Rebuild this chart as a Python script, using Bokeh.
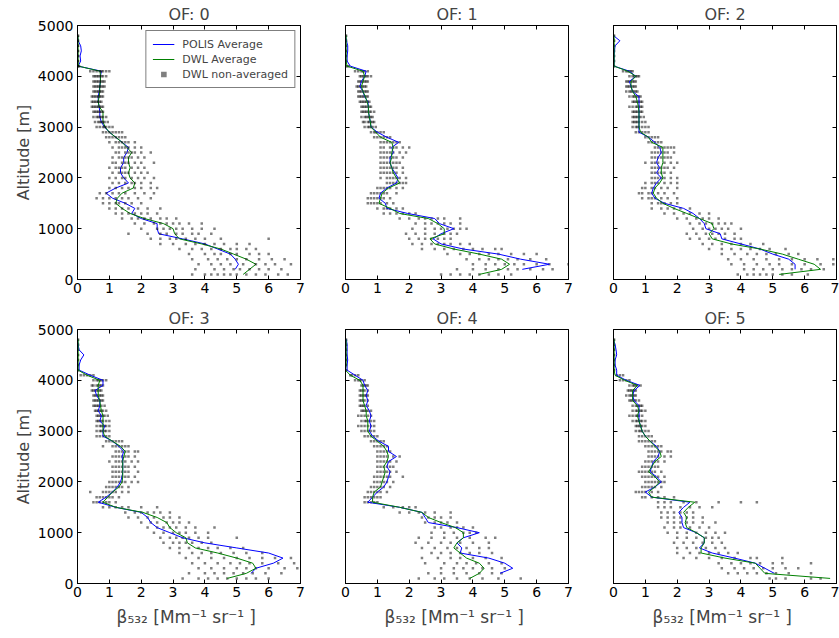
import numpy as np
from bokeh.plotting import figure
from bokeh.layouts import row, column
from bokeh.models import LinearAxis, FixedTicker
from bokeh.embed import file_html
from bokeh.resources import INLINE

ALT = list(range(100, 4900, 100))
X_TICKS = [0, 1, 2, 3, 4, 5, 6, 7]
Y_TICKS = [0, 1000, 2000, 3000, 4000, 5000]
TITLES = ["OF: 0", "OF: 1", "OF: 2", "OF: 3", "OF: 4", "OF: 5"]

# blue profiles (100 m ... 4800 m)
POLIS_0 = [None, 4.95, 5.05, 4.95, 4.8, 4.4, 4.0, 3.3,
           2.55, 2.5, 2.5, 2.0, 1.7, 1.8, 1.5, 1.1,
           0.9, 1.2, 1.6, 1.45, 1.35, 1.35, 1.45, 1.45,
           1.55, 1.6, 1.4, 1.2, 1.0, 0.85, 0.75, 0.7,
           0.7, 0.68, 0.65, 0.65, 0.68, 0.7, 0.72, 0.72,
           0.75, 0.02, 0.1, 0.08, 0.12, 0.1, 0.02, 0.0]
POLIS_1 = [None, 5.55, 6.4, 5.5, 4.8, 3.7, 3.0, 2.75,
           3.0, 3.4, 2.95, 2.8, 1.95, 1.3, 1.25, 1.05,
           1.1, 1.3, 1.6, 1.65, 1.55, 1.45, 1.4, 1.4,
           1.5, 1.45, 1.67, 1.3, 1.0, 0.8, 0.78, 0.75,
           0.72, 0.72, 0.7, 0.6, 0.55, 0.45, 0.5, 0.6,
           0.65, 0.15, 0.05, 0.05, 0.07, 0.07, 0.03, 0.0]
POLIS_2 = [None, 5.7, 5.7, 5.5, 5.0, 4.6, 4.0, 3.4,
           3.35, 2.9, 2.85, 2.7, 2.5, 2.2, 1.6, 1.3,
           1.2, 1.25, 1.35, 1.5, 1.35, 1.45, 1.35, 1.4,
           1.5, 1.45, 1.3, 1.1, 0.8, 0.8, 0.8, 0.8,
           0.8, 0.8, 0.8, 0.8, 0.6, 0.55, 0.5, 0.7,
           0.5, 0.02, 0.02, 0.02, 0.03, 0.05, 0.2, 0.0]
POLIS_3 = [None, 5.45, 5.6, 6.15, 6.45, 6.0, 5.0, 4.0,
           3.3, 2.9, 2.5, 2.3, 2.2, 2.0, 1.2, 0.65,
           0.9, 1.1, 1.25, 1.35, 1.4, 1.42, 1.42, 1.42,
           1.4, 1.45, 1.3, 1.1, 0.8, 0.8, 0.85, 0.7,
           0.75, 0.65, 0.7, 0.7, 0.6, 0.55, 0.8, 0.8,
           0.4, 0.05, 0.05, 0.1, 0.2, 0.05, 0.02, 0.0]
POLIS_4 = [None, 4.85, 5.25, 5.0, 4.5, 3.6, 3.65, 3.5,
           3.7, 4.2, 3.5, 2.6, 2.5, 2.4, 1.7, 0.7,
           0.85, 1.0, 1.2, 1.3, 1.35, 1.4, 1.3, 1.35,
           1.6, 1.35, 1.35, 1.05, 0.85, 0.75, 0.8, 0.75,
           0.8, 0.75, 0.65, 0.7, 0.65, 0.7, 0.6, 0.55,
           0.3, 0.05, 0.05, 0.07, 0.05, 0.05, 0.05, 0.03]
POLIS_5 = [None, 5.05, 4.75, 4.45, 3.8, 3.1, 2.7, 2.85,
           2.85, 2.6, 2.2, 2.15, 2.15, 2.05, 2.2, 2.4,
           1.2, 1.0, 1.3, 1.5, 1.35, 1.15, 1.2, 1.25,
           1.4, 1.45, 1.35, 1.15, 1.0, 0.9, 0.85, 0.8,
           0.8, 0.8, 0.8, 0.65, 0.6, 0.65, 0.83, 0.4,
           0.1, 0.1, 0.05, 0.05, 0.1, 0.08, 0.05, 0.0]

# green profiles (100 m ... 4800 m)
DWL_0 = [5.2, 5.4, 5.6, 5.3, 4.9, 4.5, 3.9, 3.2,
         3.05, 3.0, 2.7, 2.1, 1.65, 1.4, 1.2, 1.25,
         1.4, 1.75, 1.8, 1.65, 1.6, 1.65, 1.6, 1.6,
         1.7, 1.55, 1.4, 1.2, 1.0, 0.87, 0.8, 0.8,
         0.8, 0.68, 0.65, 0.68, 0.7, 0.7, 0.72, 0.72,
         0.71, 0.03, 0.02, 0.02, 0.02, 0.02, 0.02, 0.02]
DWL_1 = [4.2, 4.9, 5.15, 4.9, 4.2, 3.4, 2.8, 2.65,
         3.1, 3.1, 2.9, 2.6, 1.7, 1.4, 1.05, 1.1,
         1.15, 1.35, 1.7, 1.6, 1.5, 1.45, 1.4, 1.45,
         1.45, 1.5, 1.45, 1.1, 0.95, 0.8, 0.78, 0.75,
         0.72, 0.72, 0.68, 0.62, 0.55, 0.5, 0.55, 0.6,
         0.55, 0.05, 0.02, 0.02, 0.02, 0.02, 0.02, 0.02]
DWL_2 = [5.2, 6.5, 6.3, 5.8, 5.3, 4.6, 3.7, 3.1,
         3.0, 3.15, 3.1, 2.7, 2.3, 1.9, 1.55, 1.35,
         1.25, 1.3, 1.45, 1.55, 1.5, 1.5, 1.55, 1.55,
         1.55, 1.55, 1.2, 1.1, 0.85, 0.8, 0.8, 0.8,
         0.8, 0.78, 0.75, 0.7, 0.6, 0.55, 0.55, 0.7,
         0.45, 0.02, 0.02, 0.02, 0.02, 0.02, 0.02, 0.02]
DWL_3 = [4.7, 5.3, 5.6, 5.5, 5.0, 4.4, 3.7, 3.45,
         3.4, 3.1, 2.9, 2.8, 2.5, 2.05, 1.2, 0.8,
         0.95, 1.1, 1.3, 1.4, 1.42, 1.42, 1.42, 1.42,
         1.45, 1.5, 1.35, 1.1, 0.85, 0.8, 0.8, 0.8,
         0.8, 0.75, 0.72, 0.7, 0.65, 0.65, 0.65, 0.7,
         0.3, 0.02, 0.02, 0.02, 0.02, 0.02, 0.02, 0.02]
DWL_4 = [3.9, 4.2, 4.35, 4.2, 3.8, 3.6, 3.4, 3.5,
         3.7, 3.7, 3.45, 3.0, 2.6, 2.4, 1.7, 0.85,
         0.85, 0.9, 1.1, 1.15, 1.2, 1.25, 1.2, 1.3,
         1.35, 1.3, 1.2, 1.0, 0.8, 0.7, 0.7, 0.7,
         0.65, 0.65, 0.6, 0.55, 0.55, 0.55, 0.55, 0.45,
         0.15, 0.0, 0.02, 0.02, 0.02, 0.02, 0.02, 0.02]
DWL_5 = [6.8, 4.75, 4.6, 4.45, 3.5, 2.75, 2.75, 2.85,
         2.85, 2.6, 2.3, 2.25, 2.3, 2.2, 2.35, 2.55,
         1.2, 1.1, 1.3, 1.45, 1.3, 1.1, 1.2, 1.3,
         1.5, 1.45, 1.3, 1.15, 1.0, 0.9, 0.85, 0.8,
         0.75, 0.8, 0.75, 0.6, 0.6, 0.6, 0.75, 0.35,
         0.05, 0.02, 0.02, 0.02, 0.02, 0.02, 0.02, 0.02]

# non-averaged DWL samples, one string per altitude level (100 m ... 4800 m)
RAW_0 = ["3.6 4.0 4.2 4.4 4.6 4.8 5.0 5.3 5.6 5.9 6.3 6.6",
         "3.7 4.3 4.6 4.9 5.1 5.4 5.7 6.0 6.4",
         "3.8 4.2 4.5 4.8 5.2 5.6 5.9 6.2 6.7",
         "3.6 4.1 4.4 4.7 5.0 5.3 5.7 6.1 6.5",
         "3.5 4.0 4.3 4.5 4.8 5.0 5.4 5.7 6.0",
         "3.2 3.6 3.9 4.2 4.5 4.8 5.0 5.3 5.6",
         "2.6 3.0 3.4 3.7 4.0 4.3 4.6 5.0 5.4",
         "2.3 2.6 2.9 3.1 3.4 3.7 4.0 4.5 6.0",
         "1.6 2.2 2.6 2.8 3.1 3.3 3.6 3.8 4.2",
         "2.0 2.5 2.7 2.9 3.1 3.3 3.6 3.9 4.3",
         "1.8 2.1 2.4 2.6 2.8 3.0 3.2 3.5 3.9",
         "1.4 1.7 1.9 2.1 2.3 2.6 2.8 3.1",
         "1.2 1.4 1.6 1.8 2.0 2.2 2.5",
         "1.0 1.2 1.4 1.6 1.9 2.2 2.6",
         "0.8 1.0 1.2 1.3 1.5 1.7 2.0",
         "0.6 0.8 1.0 1.2 1.4 1.6 1.9 2.3",
         "0.7 0.9 1.1 1.3 1.5 1.8 2.1 2.4",
         "1.0 1.2 1.4 1.6 1.8 2.0 2.3 2.5",
         "1.1 1.3 1.5 1.7 1.8 2.0 2.3",
         "1.0 1.2 1.4 1.5 1.7 1.9 2.1 2.4",
         "1.1 1.3 1.4 1.5 1.6 1.8 2.0 2.2",
         "1.0 1.2 1.3 1.4 1.5 1.7 1.9 2.1",
         "1.1 1.2 1.4 1.5 1.6 1.8 2.0 2.4",
         "1.1 1.3 1.4 1.5 1.6 1.7 1.9 2.1",
         "1.2 1.3 1.5 1.6 1.7 1.8 2.0 2.3",
         "1.1 1.3 1.4 1.5 1.6 1.8 2.0",
         "1.0 1.2 1.3 1.4 1.5 1.6 1.8",
         "0.9 1.0 1.1 1.2 1.3 1.4 1.5",
         "0.8 0.9 1.0 1.1 1.2 1.3 1.4",
         "0.6 0.7 0.8 0.85 0.9 1.0 1.1",
         "0.55 0.65 0.7 0.75 0.8 0.85 0.95",
         "0.5 0.6 0.65 0.7 0.75 0.8 0.9",
         "0.5 0.55 0.6 0.65 0.7 0.75 0.8",
         "0.45 0.5 0.55 0.6 0.65 0.7 0.75 0.8",
         "0.45 0.5 0.55 0.6 0.65 0.7 0.75",
         "0.45 0.5 0.55 0.6 0.65 0.7 0.75 0.8",
         "0.5 0.55 0.6 0.65 0.7 0.75 0.8",
         "0.5 0.55 0.6 0.65 0.7 0.75 0.8 0.85",
         "0.5 0.55 0.6 0.65 0.7 0.75 0.8 0.85",
         "0.5 0.55 0.6 0.65 0.7 0.75 0.8 0.9",
         "0.4 0.5 0.6 0.7 0.75 0.8 0.9 1.0",
         "0.0 0.02 0.05", "0.0 0.02", "0.0 0.02", "0.0 0.02",
         "0.0 0.02", "0.0 0.02", "0.0 0.02"]
RAW_1 = ["3.0 3.3 3.6 3.9 4.2 4.5 4.8 5.2",
         "3.5 4.0 4.4 4.8 5.1 5.4 5.8 6.2 6.5",
         "4.0 4.4 4.7 5.0 5.3 5.6 6.0 6.4 7.0",
         "3.8 4.2 4.5 4.8 5.1 5.4 5.8 6.3",
         "3.2 3.6 3.9 4.2 4.5 4.8 5.2 5.6 6.0",
         "2.4 2.8 3.1 3.4 3.7 4.0 4.3 4.7 4.9",
         "2.1 2.4 2.7 2.9 3.1 3.3 3.6 3.9",
         "2.0 2.3 2.5 2.7 2.9 3.1 3.3",
         "1.9 2.2 2.5 2.8 3.1 3.3 3.5",
         "2.1 2.5 2.8 3.0 3.2 3.4 3.6 3.8",
         "2.2 2.5 2.7 2.9 3.1 3.3 3.6",
         "1.7 2.0 2.3 2.5 2.7 2.9 3.1 3.6",
         "1.2 1.4 1.6 1.8 2.0 2.2",
         "1.0 1.2 1.3 1.4 1.6 1.8",
         "0.7 0.8 0.9 1.0 1.1 1.3 1.5",
         "0.7 0.8 0.9 1.0 1.1 1.2 1.4",
         "0.8 0.9 1.0 1.1 1.2 1.3 1.6",
         "1.0 1.1 1.2 1.3 1.4 1.6 1.8",
         "1.3 1.4 1.5 1.6 1.7 1.8 1.9",
         "1.1 1.3 1.4 1.5 1.6 1.7 1.9",
         "1.1 1.2 1.3 1.4 1.5 1.6 1.8",
         "1.1 1.2 1.3 1.4 1.5 1.6 1.8",
         "1.1 1.2 1.3 1.4 1.5 1.6 1.7",
         "1.1 1.2 1.3 1.4 1.5 1.6 1.8",
         "1.1 1.2 1.3 1.4 1.5 1.7 1.9",
         "1.1 1.2 1.4 1.5 1.6 1.8 2.0",
         "1.1 1.2 1.3 1.4 1.5 1.6 1.7",
         "0.9 1.0 1.1 1.2 1.3 1.4",
         "0.8 0.9 0.95 1.0 1.1 1.2",
         "0.6 0.7 0.75 0.8 0.85 0.95",
         "0.55 0.6 0.7 0.75 0.8 0.85 0.9",
         "0.5 0.6 0.65 0.7 0.75 0.8 0.85",
         "0.5 0.55 0.6 0.65 0.7 0.75 0.8 0.9",
         "0.5 0.55 0.6 0.65 0.7 0.75 0.8",
         "0.45 0.5 0.55 0.6 0.65 0.7 0.75",
         "0.4 0.45 0.5 0.55 0.6 0.65 0.7",
         "0.4 0.45 0.5 0.55 0.6 0.65 0.7",
         "0.35 0.4 0.45 0.5 0.55 0.6 0.65",
         "0.4 0.45 0.5 0.55 0.6 0.65 0.7",
         "0.45 0.5 0.55 0.6 0.65 0.7 0.8",
         "0.3 0.4 0.5 0.55 0.6 0.7",
         "0.0 0.05 0.1", "0.0 0.02", "0.0 0.02", "0.0 0.02",
         "0.0 0.02", "0.0 0.02", "0.0 0.02"]
RAW_2 = ["3.9 4.2 4.4 4.6 4.8 5.0 5.3 5.6 6.1",
         "4.1 4.4 4.7 5.0 5.3 5.6 5.9 6.2 6.6",
         "3.7 4.1 4.5 4.9 5.2 5.6 6.0 6.5 6.9",
         "3.6 4.0 4.4 4.8 5.2 5.6 6.0 6.4 6.9",
         "3.4 3.8 4.2 4.5 4.8 5.1 5.5 5.8",
         "3.0 3.4 3.7 4.0 4.3 4.6 4.9 5.4",
         "2.8 3.1 3.4 3.7 4.0 4.3 4.7",
         "2.4 2.7 3.0 3.2 3.5 3.8 4.0",
         "2.3 2.6 2.9 3.1 3.3 3.5 3.8",
         "2.5 2.8 3.0 3.2 3.4 3.6 4.0",
         "2.4 2.7 2.9 3.1 3.3 3.5 3.7",
         "2.0 2.3 2.6 2.8 3.0 3.3",
         "1.6 1.9 2.2 2.4 2.7 3.0",
         "1.2 1.5 1.7 1.9 2.1 2.4",
         "1.2 1.4 1.5 1.6 1.8 2.0",
         "0.9 1.1 1.2 1.3 1.5 1.7 2.0",
         "0.8 0.9 1.1 1.2 1.4 1.6 1.9",
         "0.9 1.0 1.2 1.3 1.5 1.7 2.0",
         "1.0 1.2 1.3 1.4 1.6 1.8 2.0",
         "1.2 1.3 1.4 1.5 1.6 1.8 2.0",
         "1.2 1.3 1.4 1.5 1.6 1.8",
         "1.2 1.3 1.4 1.5 1.6 1.7 1.9",
         "1.0 1.2 1.3 1.4 1.6 1.8 2.0",
         "1.2 1.3 1.4 1.5 1.6 1.7 1.8",
         "1.2 1.3 1.4 1.5 1.6 1.7 1.9",
         "1.3 1.4 1.5 1.6 1.7 1.8 1.9",
         "1.1 1.2 1.3 1.4 1.5",
         "1.0 1.1 1.2 1.3 1.4",
         "0.7 0.8 0.9 1.0 1.1",
         "0.6 0.7 0.75 0.8 0.9 1.0 1.1",
         "0.6 0.65 0.7 0.75 0.8 0.9 1.0",
         "0.6 0.65 0.7 0.75 0.8 0.85 0.95",
         "0.6 0.65 0.7 0.75 0.8 0.85 0.9",
         "0.5 0.6 0.7 0.75 0.8 0.85 0.9",
         "0.6 0.65 0.7 0.75 0.8 0.85 0.9",
         "0.5 0.6 0.65 0.7 0.75 0.8 0.85",
         "0.4 0.5 0.55 0.6 0.65 0.7 0.75",
         "0.4 0.45 0.5 0.55 0.6 0.65 0.7",
         "0.4 0.45 0.5 0.55 0.6 0.65 0.7",
         "0.5 0.6 0.65 0.7 0.75 0.8",
         "0.3 0.4 0.45 0.5 0.55 0.6",
         "0.0 0.02", "0.0 0.02", "0.0 0.02", "0.0 0.02",
         "0.0 0.02", "0.0 0.02", "0.0 0.02"]
RAW_3 = ["3.3 3.8 4.1 4.4 4.7 5.0 5.3 5.6 6.0",
         "3.5 4.0 4.3 4.6 4.9 5.2 5.5 5.9 6.4",
         "3.8 4.2 4.6 5.0 5.3 5.6 6.0 6.5 6.9",
         "3.6 4.0 4.4 4.8 5.1 5.4 5.8 6.3 6.8",
         "3.4 3.8 4.2 4.6 5.0 5.4 5.8 6.2 6.7",
         "3.2 3.6 3.9 4.2 4.5 4.9 5.3 5.8",
         "2.9 3.2 3.5 3.8 4.1 4.4 4.8 5.2",
         "2.7 3.0 3.2 3.4 3.6 3.9 4.2",
         "2.6 2.9 3.1 3.3 3.5 3.8 4.1 5.0",
         "2.4 2.7 3.0 3.2 3.4 3.7 4.1",
         "2.2 2.5 2.7 2.9 3.1 3.4 3.7 4.3",
         "2.0 2.3 2.5 2.8 3.0 3.2 3.5",
         "1.6 1.9 2.2 2.4 2.7 2.9 3.2",
         "1.5 1.8 2.0 2.2 2.4 2.6 2.9",
         "0.8 1.0 1.2 1.4 1.6 2.0 2.5",
         "0.5 0.6 0.7 0.8 0.9 1.0 1.2",
         "0.6 0.7 0.8 0.9 1.0 1.1 1.3",
         "0.4 0.8 0.9 1.0 1.1 1.2 1.4 1.6",
         "0.9 1.0 1.1 1.2 1.3 1.4 1.6",
         "1.0 1.1 1.2 1.3 1.4 1.5 1.7 1.9",
         "1.1 1.2 1.3 1.4 1.5 1.6 1.8",
         "1.1 1.2 1.3 1.4 1.5 1.6 1.9",
         "1.1 1.2 1.3 1.4 1.5 1.6 1.8",
         "1.0 1.2 1.3 1.4 1.5 1.7 1.9",
         "1.1 1.2 1.3 1.4 1.5 1.6 1.8",
         "1.2 1.3 1.4 1.5 1.6 1.8 1.9",
         "0.8 1.1 1.2 1.3 1.4 1.5 1.6",
         "0.9 1.0 1.1 1.2 1.3 1.4",
         "0.6 0.7 0.8 0.9 1.0",
         "0.6 0.7 0.75 0.8 0.85 0.9 1.0",
         "0.6 0.7 0.75 0.8 0.85 0.9 1.0",
         "0.6 0.65 0.7 0.75 0.8 0.9 1.0",
         "0.6 0.65 0.7 0.75 0.8 0.85 0.95",
         "0.55 0.6 0.65 0.7 0.75 0.8 0.9",
         "0.5 0.55 0.6 0.65 0.7 0.75 0.85",
         "0.5 0.55 0.6 0.65 0.7 0.75 0.8",
         "0.5 0.55 0.6 0.65 0.7 0.75 0.8",
         "0.45 0.5 0.55 0.6 0.65 0.7 0.75",
         "0.45 0.5 0.6 0.65 0.7 0.75 0.8",
         "0.5 0.6 0.65 0.7 0.75 0.8 0.9",
         "0.1 0.2 0.3 0.4 0.5",
         "0.0 0.02", "0.0 0.02", "0.0 0.02", "0.0 0.02",
         "0.0 0.02", "0.0 0.02", "0.0 0.02"]
RAW_4 = ["2.3 2.8 3.1 3.5 3.9 4.3 4.8 5.5",
         "2.6 3.0 3.4 3.8 4.2 4.6 4.9",
         "3.0 3.4 3.7 4.0 4.3 4.6 5.0",
         "2.5 3.1 3.5 3.8 4.1 4.5 4.9",
         "2.4 2.9 3.3 3.6 4.0 4.4 4.9",
         "2.7 3.0 3.3 3.6 3.9 4.2 4.6",
         "2.4 2.8 3.2 3.5 3.8 4.2 4.5",
         "2.2 2.6 3.0 3.3 3.6 4.0 4.5",
         "2.3 2.7 3.1 3.5 3.9 4.4 4.7",
         "2.7 3.1 3.4 3.7 3.9 4.1",
         "2.8 3.0 3.3 3.5 3.7 4.0",
         "2.5 2.8 3.0 3.2 3.5",
         "2.4 2.6 2.8 3.0 3.3",
         "1.7 2.0 2.3 2.5 2.8 3.3",
         "1.2 1.5 1.8 2.0 2.2",
         "0.6 0.7 0.8 0.9 1.0",
         "0.6 0.7 0.8 0.9 1.0 1.1",
         "0.7 0.8 0.9 1.0 1.1 1.3",
         "0.8 0.9 1.0 1.1 1.2 1.4",
         "0.9 1.0 1.1 1.2 1.3 1.5",
         "0.9 1.0 1.1 1.2 1.3 1.4 1.8",
         "1.0 1.1 1.2 1.3 1.4 1.6",
         "1.0 1.1 1.2 1.3 1.4 1.5",
         "1.0 1.1 1.2 1.3 1.4 1.6",
         "1.0 1.1 1.2 1.3 1.5 1.7",
         "1.0 1.1 1.2 1.3 1.4",
         "0.9 1.0 1.1 1.2 1.3",
         "0.8 0.9 1.0 1.1 1.2",
         "0.6 0.7 0.8 0.9 1.0",
         "0.5 0.6 0.7 0.8 0.9",
         "0.4 0.5 0.6 0.7 0.8 0.9",
         "0.5 0.6 0.65 0.7 0.8 0.9",
         "0.4 0.5 0.6 0.7 0.8",
         "0.5 0.55 0.6 0.65 0.7 0.8",
         "0.45 0.5 0.55 0.6 0.7",
         "0.45 0.5 0.55 0.6 0.7",
         "0.45 0.5 0.55 0.6 0.65 0.7",
         "0.45 0.5 0.55 0.6 0.7",
         "0.5 0.55 0.6 0.65 0.7",
         "0.3 0.4 0.45 0.5 0.6",
         "0.15 0.2 0.3 0.4",
         "0.0 0.02", "0.0 0.02", "0.0 0.02", "0.0 0.02",
         "0.0 0.02", "0.0 0.02", "0.0 0.02"]
RAW_5 = ["4.9 5.1 5.4 6.2 6.5",
         "3.6 3.9 4.2 4.5 4.8 5.1 5.5 6.2",
         "3.4 3.8 4.1 4.4 4.7 5.0 5.4 5.8",
         "3.3 3.7 4.0 4.3 4.6 5.0 5.3 6.2",
         "2.2 2.6 3.0 3.4 3.8 4.3 4.5 5.3",
         "2.0 2.4 2.7 3.0 3.3 3.6 3.9",
         "2.0 2.3 2.6 2.9 3.2 3.5",
         "1.9 2.2 2.5 2.8 3.1 3.4",
         "2.0 2.3 2.6 2.9 3.1 3.3",
         "1.7 2.0 2.3 2.6 2.9 3.2 3.5",
         "1.6 1.9 2.1 2.4 2.7 3.0",
         "1.7 1.9 2.1 2.3 2.5 2.8 3.2",
         "1.5 1.7 1.9 2.1 2.3 2.5 2.8",
         "1.5 1.7 1.9 2.1 2.3 2.5",
         "1.4 1.6 1.8 2.1 2.4 2.7 3.1",
         "1.4 1.6 1.8 2.2 2.6 3.3 4.0 4.5",
         "0.9 1.0 1.2 1.4 1.6 1.9",
         "0.7 0.8 0.9 1.0 1.2 1.4",
         "0.9 1.0 1.1 1.2 1.3 1.5",
         "1.0 1.1 1.2 1.3 1.4 1.5 1.6",
         "0.9 1.0 1.1 1.2 1.3 1.4 1.6",
         "0.8 0.9 1.0 1.1 1.2 1.3 1.5",
         "0.9 1.0 1.1 1.2 1.3 1.4",
         "1.0 1.1 1.2 1.3 1.4 1.6",
         "1.1 1.2 1.3 1.4 1.6 1.8",
         "1.1 1.2 1.3 1.4 1.5 1.7 1.8",
         "1.0 1.1 1.2 1.3 1.4 1.5",
         "0.8 0.9 1.0 1.1 1.2 1.3",
         "0.8 0.9 1.0 1.1 1.2",
         "0.7 0.8 0.85 0.9 1.0 1.1",
         "0.7 0.75 0.8 0.85 0.9 1.0",
         "0.6 0.7 0.75 0.8 0.85 0.9 1.0",
         "0.5 0.6 0.7 0.75 0.8 0.9",
         "0.6 0.7 0.75 0.8 0.85 0.9 1.0",
         "0.6 0.7 0.75 0.8 0.85 0.9",
         "0.5 0.55 0.6 0.65 0.7 0.8",
         "0.4 0.5 0.55 0.6 0.65 0.7",
         "0.45 0.5 0.55 0.6 0.65 0.7",
         "0.5 0.6 0.65 0.7 0.75 0.85",
         "0.2 0.3 0.4 0.5",
         "0.1 0.2 0.3",
         "0.0 0.02", "0.0 0.02", "0.0 0.02", "0.0 0.02",
         "0.0 0.02", "0.0 0.02", "0.0 0.02"]

POLIS = [POLIS_0, POLIS_1, POLIS_2, POLIS_3, POLIS_4, POLIS_5]
DWL = [DWL_0, DWL_1, DWL_2, DWL_3, DWL_4, DWL_5]
RAW = [RAW_0, RAW_1, RAW_2, RAW_3, RAW_4, RAW_5]

FONT = "DejaVu Sans"
XLABEL = "\u03b2\u2085\u2083\u2082 [Mm\u207b\u00b9  sr\u207b\u00b9 ]"
BLUE = "#0000ff"
GREEN = "#008000"


def unpack(raw):
    xs, ys = [], []
    for alt, s in zip(ALT, raw):
        vals = [float(v) for v in s.split()]
        xs += vals
        ys += [alt] * len(vals)
    return xs, ys


def style_axis(ax, labels=True):
    ax.axis_line_color = "black"
    ax.major_tick_line_color = "black"
    ax.major_tick_in = 4
    ax.major_tick_out = 0
    ax.minor_tick_in = 0
    ax.minor_tick_out = 0
    ax.major_label_text_font = FONT
    if labels:
        ax.major_label_text_color = "black"
        ax.major_label_text_font_size = "14px"
    else:
        # ticks only: labels are not drawn at all
        ax.major_label_text_color = None
        ax.major_label_text_font_size = "1px"
        ax.major_label_standoff = 0


def make_panel(k, left, right, top, bottom):
    col, rw = k % 3, k // 3
    p = figure(width=left + 223 + right, height=top + 254 + bottom,
               x_range=(0, 7), y_range=(0, 5000),
               output_backend="svg", toolbar_location=None,
               min_border_left=left, min_border_right=right,
               min_border_top=top, min_border_bottom=bottom)
    p.grid.visible = False
    p.outline_line_color = "black"
    p.outline_line_alpha = 1
    p.background_fill_color = "white"
    p.border_fill_color = "white"

    p.title.text = TITLES[k]
    p.title.align = "center"
    p.title.text_font = FONT
    p.title.text_font_size = "16px"
    p.title.text_font_style = "normal"
    p.title.standoff = 3

    p.xaxis.ticker = FixedTicker(ticks=X_TICKS)
    p.yaxis.ticker = FixedTicker(ticks=Y_TICKS)
    for ax in p.xaxis:
        style_axis(ax)
        ax.major_label_standoff = 3
    for ax in p.yaxis:
        style_axis(ax, labels=(col == 0))
        if col == 0:
            ax.major_label_standoff = 4
    if col == 0:
        p.yaxis.axis_label = "Altitude [m]"
        p.yaxis.axis_label_text_font = FONT
        p.yaxis.axis_label_text_font_size = "16px"
        p.yaxis.axis_label_text_font_style = "normal"
        p.yaxis.axis_label_standoff = 2
    if rw == 1:
        p.xaxis.axis_label = XLABEL
        p.xaxis.axis_label_text_font = FONT
        p.xaxis.axis_label_text_font_size = "17px"
        p.xaxis.axis_label_text_font_style = "normal"
        p.xaxis.axis_label_standoff = 7

    top_ax = LinearAxis(ticker=FixedTicker(ticks=X_TICKS))
    right_ax = LinearAxis(ticker=FixedTicker(ticks=Y_TICKS))
    for ax in (top_ax, right_ax):
        style_axis(ax, labels=False)
        ax.axis_line_color = None
    p.add_layout(top_ax, "above")
    p.add_layout(right_ax, "right")

    xs, ys = unpack(RAW[k])
    polis = np.array(POLIS[k], dtype=float)
    dwl = np.array(DWL[k], dtype=float)
    if k == 0:
        p.line(polis, ALT, line_color=BLUE, line_width=1, legend_label="POLIS Average")
        p.line(dwl, ALT, line_color=GREEN, line_width=1, legend_label="DWL Average")
        p.scatter(xs, ys, marker="square", size=2.5, fill_color="black", line_color=None,
                  fill_alpha=0.5, legend_label="DWL non-averaged")
        lg = p.legend[0]
        lg.location = "top_right"
        lg.margin = 5
        lg.padding = 6
        lg.spacing = 1
        lg.glyph_width = 22
        lg.glyph_height = 14
        lg.label_height = 14
        lg.label_standoff = 8
        lg.label_text_font = FONT
        lg.label_text_font_size = "11px"
        lg.border_line_color = "black"
        lg.border_line_width = 1
        lg.background_fill_alpha = 1
    else:
        p.scatter(xs, ys, marker="square", size=2.5, fill_color="black", line_color=None,
                  fill_alpha=0.5)
        p.line(polis, ALT, line_color=BLUE, line_width=1)
        p.line(dwl, ALT, line_color=GREEN, line_width=1)
    return p


lefts = [77, 35, 35]
rights = [10, 10, 3]
panels = []
for k in range(6):
    c, r = k % 3, k // 3
    top = 25 if r == 0 else 28
    bottom = 22 if r == 0 else 50
    panels.append(make_panel(k, lefts[c], rights[c], top, bottom))

layout = column(row(*panels[:3]), row(*panels[3:]))
open("out.html", "w").write(file_html(layout, INLINE))
